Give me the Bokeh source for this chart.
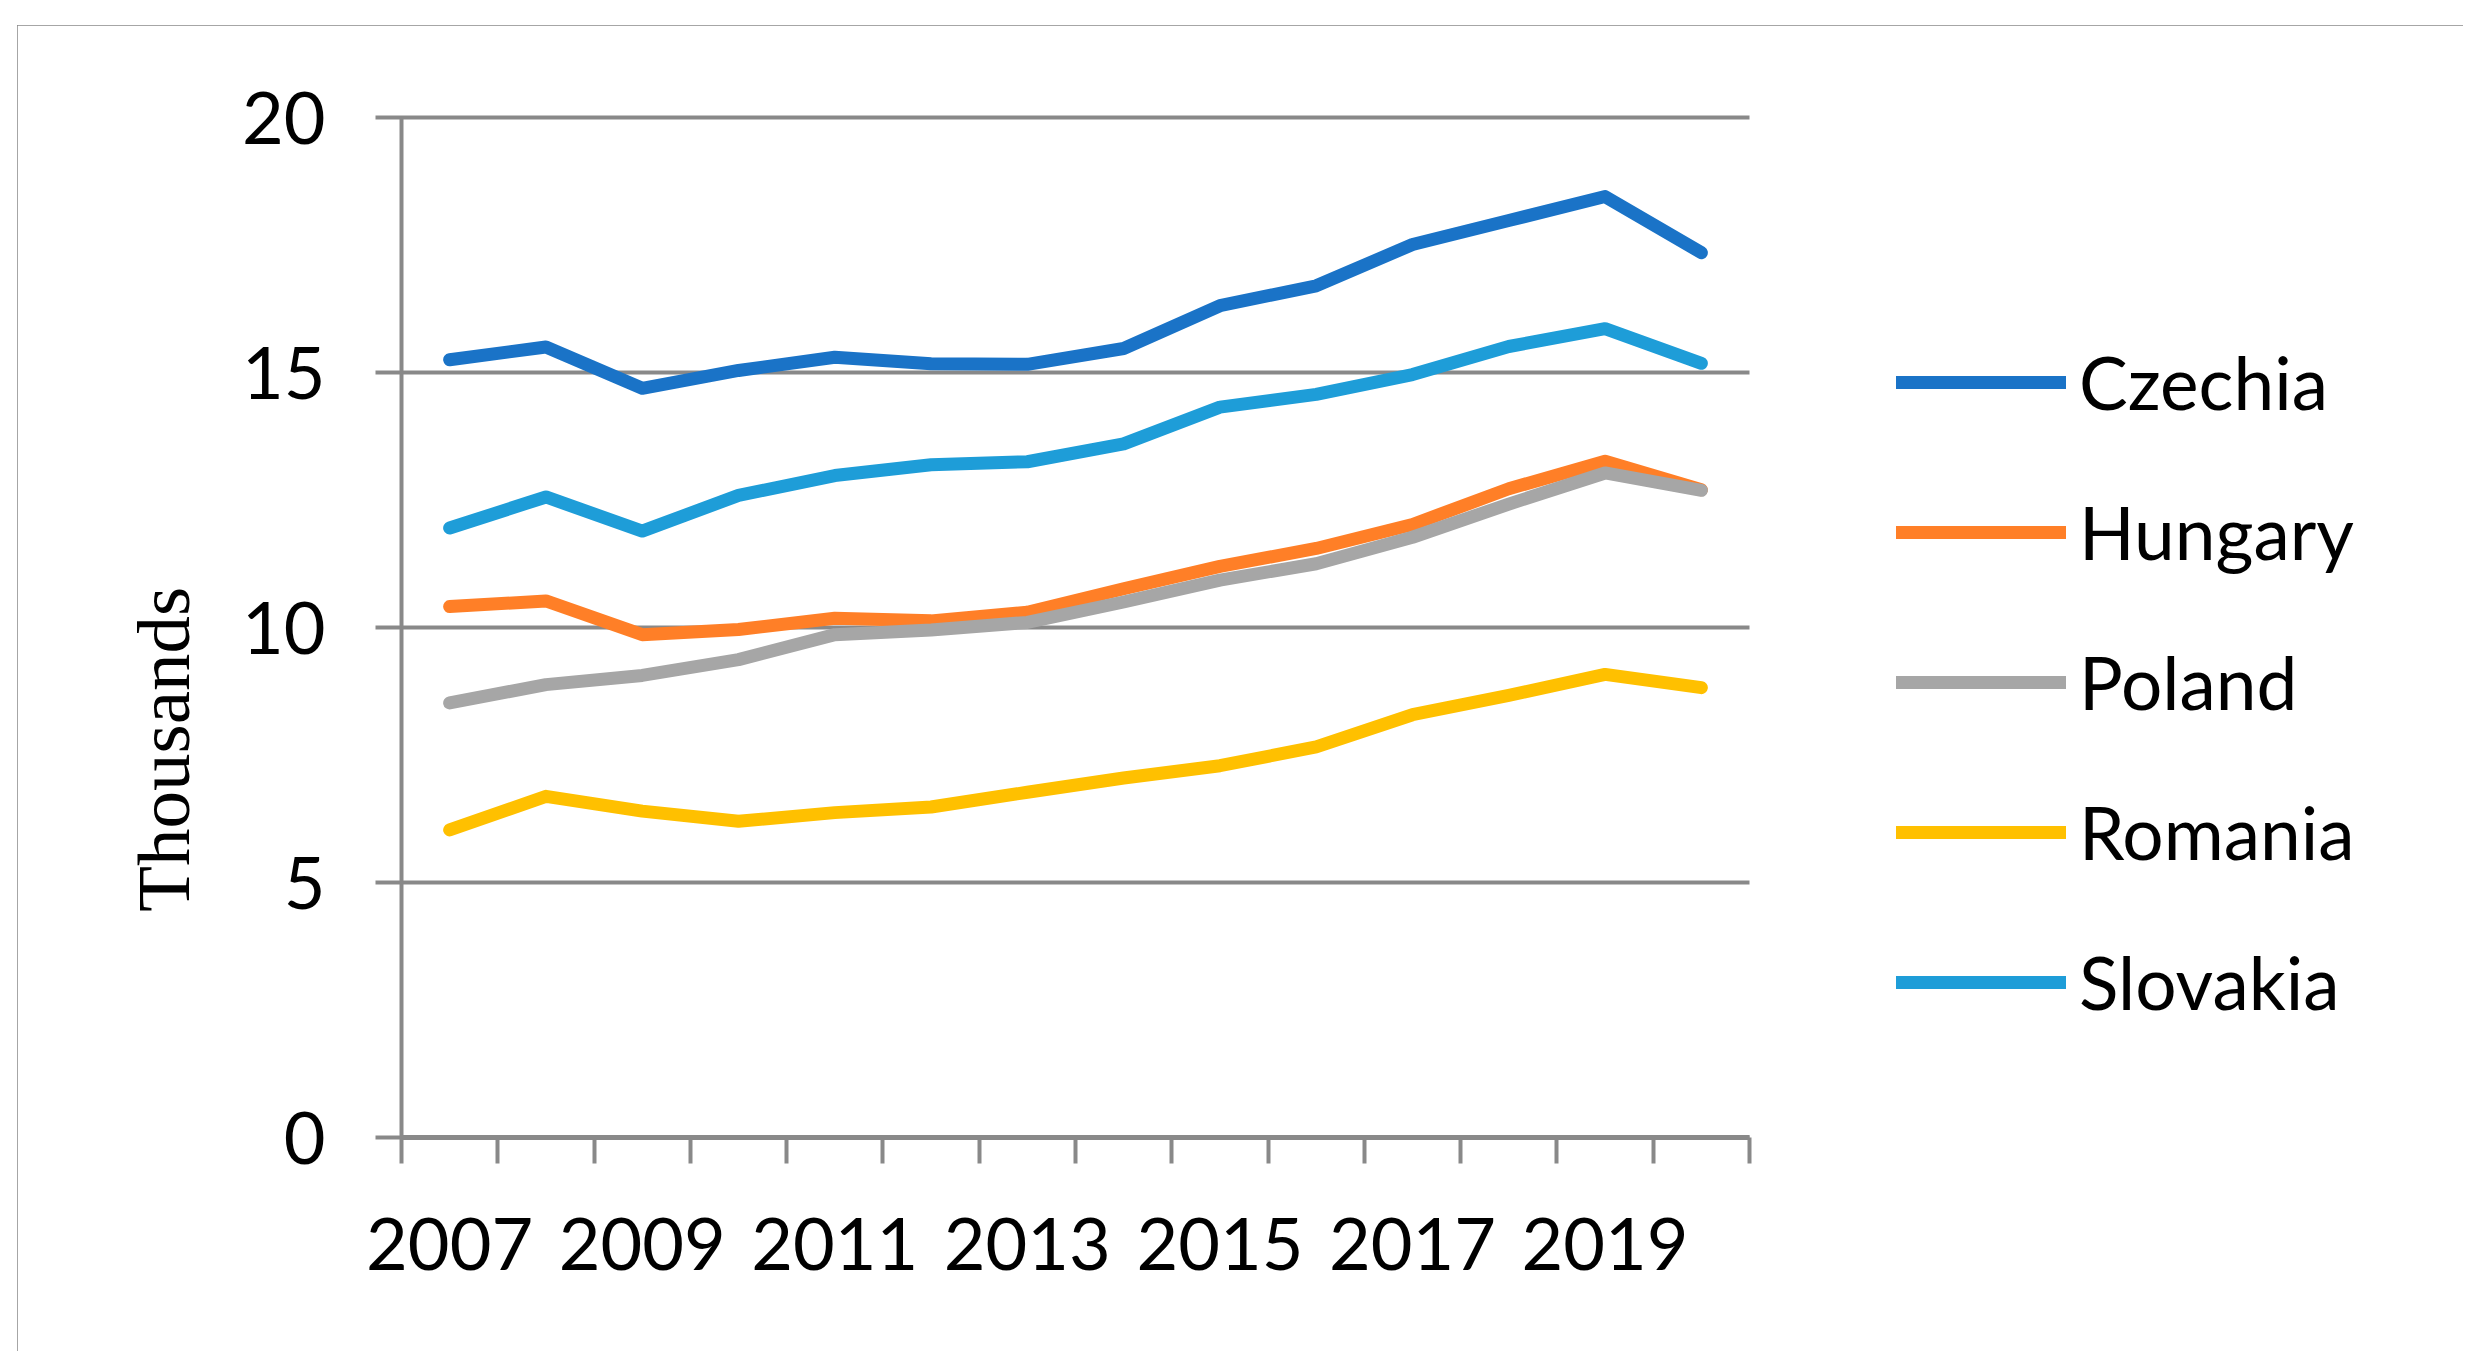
from bokeh.plotting import figure
from bokeh.models import (Range1d, FixedTicker, Legend, LegendItem, ColumnDataSource)
from bokeh.embed import file_html
from bokeh.resources import INLINE

years = [2007, 2008, 2009, 2010, 2011, 2012, 2013, 2014, 2015, 2016, 2017, 2018, 2019, 2020]
czechia = [15.25, 15.50, 14.69, 15.04, 15.30, 15.17, 15.16, 15.47, 16.31, 16.70, 17.51, 17.98, 18.45, 17.35]
hungary = [10.41, 10.52, 9.86, 9.96, 10.18, 10.13, 10.30, 10.76, 11.20, 11.55, 12.02, 12.72, 13.26, 12.70]
poland = [8.52, 8.88, 9.06, 9.37, 9.86, 9.95, 10.10, 10.50, 10.93, 11.25, 11.77, 12.42, 13.03, 12.69]
romania = [6.03, 6.69, 6.40, 6.20, 6.37, 6.48, 6.77, 7.05, 7.29, 7.66, 8.29, 8.67, 9.08, 8.82]
slovakia = [11.95, 12.56, 11.89, 12.59, 12.98, 13.19, 13.25, 13.60, 14.32, 14.57, 14.96, 15.51, 15.86, 15.18]

series_names = ["Czechia", "Hungary", "Poland", "Romania", "Slovakia"]
series_values = [czechia, hungary, poland, romania, slovakia]
series_colors = ["#1A73C7", "#FF7F27", "#A6A6A6", "#FFC000", "#1E9DD8"]

y_ticks = [0, 5, 10, 15, 20]
x_label_years = [2007, 2009, 2011, 2013, 2015, 2017, 2019]
y_title = "Thousands"

GRAY = "#898989"
FONT = "Lato"

n = len(years)
idx = list(range(n))
plot_px = 1348                      # width of the category area in pixels
px_per_cat = plot_px / n
extra_cats = 7                      # room on the right for the legend
frame_w = round(px_per_cat * (n + extra_cats))

p = figure(width=2446, height=1326, output_backend="svg", toolbar_location=None,
           x_range=Range1d(-0.5, n - 0.5 + extra_cats), y_range=Range1d(0, 20),
           min_border_left=384, min_border_right=2446 - 384 - frame_w,
           min_border_top=92, min_border_bottom=214)
p.outline_line_color = None
p.background_fill_color = "white"
p.border_fill_color = "white"
p.styles = {"outline": "4px solid #898989", "outline-offset": "-4px",
            "transform": "translate(17px, 25px)"}

# x axis: boundary ticks (minor), year labels at every other category centre
xa = p.xaxis[0]
major = [years.index(y) for y in x_label_years]
minor = [i - 0.5 for i in range(n + 1)]
xa.bounds = (-0.5, n - 0.5)
xa.ticker = FixedTicker(ticks=major, minor_ticks=minor)
xa.major_label_overrides = {years.index(y): str(y) for y in x_label_years}
xa.major_tick_line_color = None
xa.major_tick_out = 0
xa.major_tick_in = 0
xa.minor_tick_line_color = GRAY
xa.minor_tick_line_width = 4
xa.minor_tick_out = 26
xa.minor_tick_in = 0
xa.axis_line_color = GRAY
xa.axis_line_width = 5
xa.major_label_text_font = FONT
xa.major_label_text_font_size = "72px"
xa.major_label_text_color = "black"
xa.major_label_standoff = 54

# y axis: its ticks run across the category area and act as the grid
ya = p.yaxis[0]
ya.ticker = FixedTicker(ticks=y_ticks)
ya.minor_tick_line_color = None
ya.major_tick_line_color = GRAY
ya.major_tick_line_width = 4
ya.major_tick_out = 26
ya.major_tick_in = plot_px
ya.axis_line_color = GRAY
ya.axis_line_width = 4
ya.major_label_text_font = FONT
ya.major_label_text_font_size = "72px"
ya.major_label_text_color = "black"
ya.major_label_standoff = 50
# the original title sits below the middle of the axis: pad its top end
ya.axis_label = y_title + "\u00a0" * 13
ya.axis_label_text_font = "Liberation Serif"
ya.axis_label_text_font_size = "75px"
ya.axis_label_text_font_style = "normal"
ya.axis_label_text_color = "black"
ya.axis_label_standoff = 34

p.xgrid.visible = False
p.ygrid.visible = False

items = []
for name, vals, col in zip(series_names, series_values, series_colors):
    src = ColumnDataSource(dict(x=idx, y=vals))
    r = p.line("x", "y", source=src, line_color=col, line_width=13,
               line_cap="round", line_join="round", level="overlay")
    items.append(LegendItem(label=name, renderers=[r]))

legend = Legend(items=items, location=(1495, 111), orientation="vertical",
                glyph_width=170, glyph_height=86, label_height=86,
                spacing=62, padding=0, margin=0, label_standoff=13,
                label_text_font=FONT, label_text_font_size="73px",
                label_text_color="black", border_line_color=None,
                background_fill_alpha=0)
p.add_layout(legend, "center")

open("out.html", "w").write(file_html(p, INLINE))
